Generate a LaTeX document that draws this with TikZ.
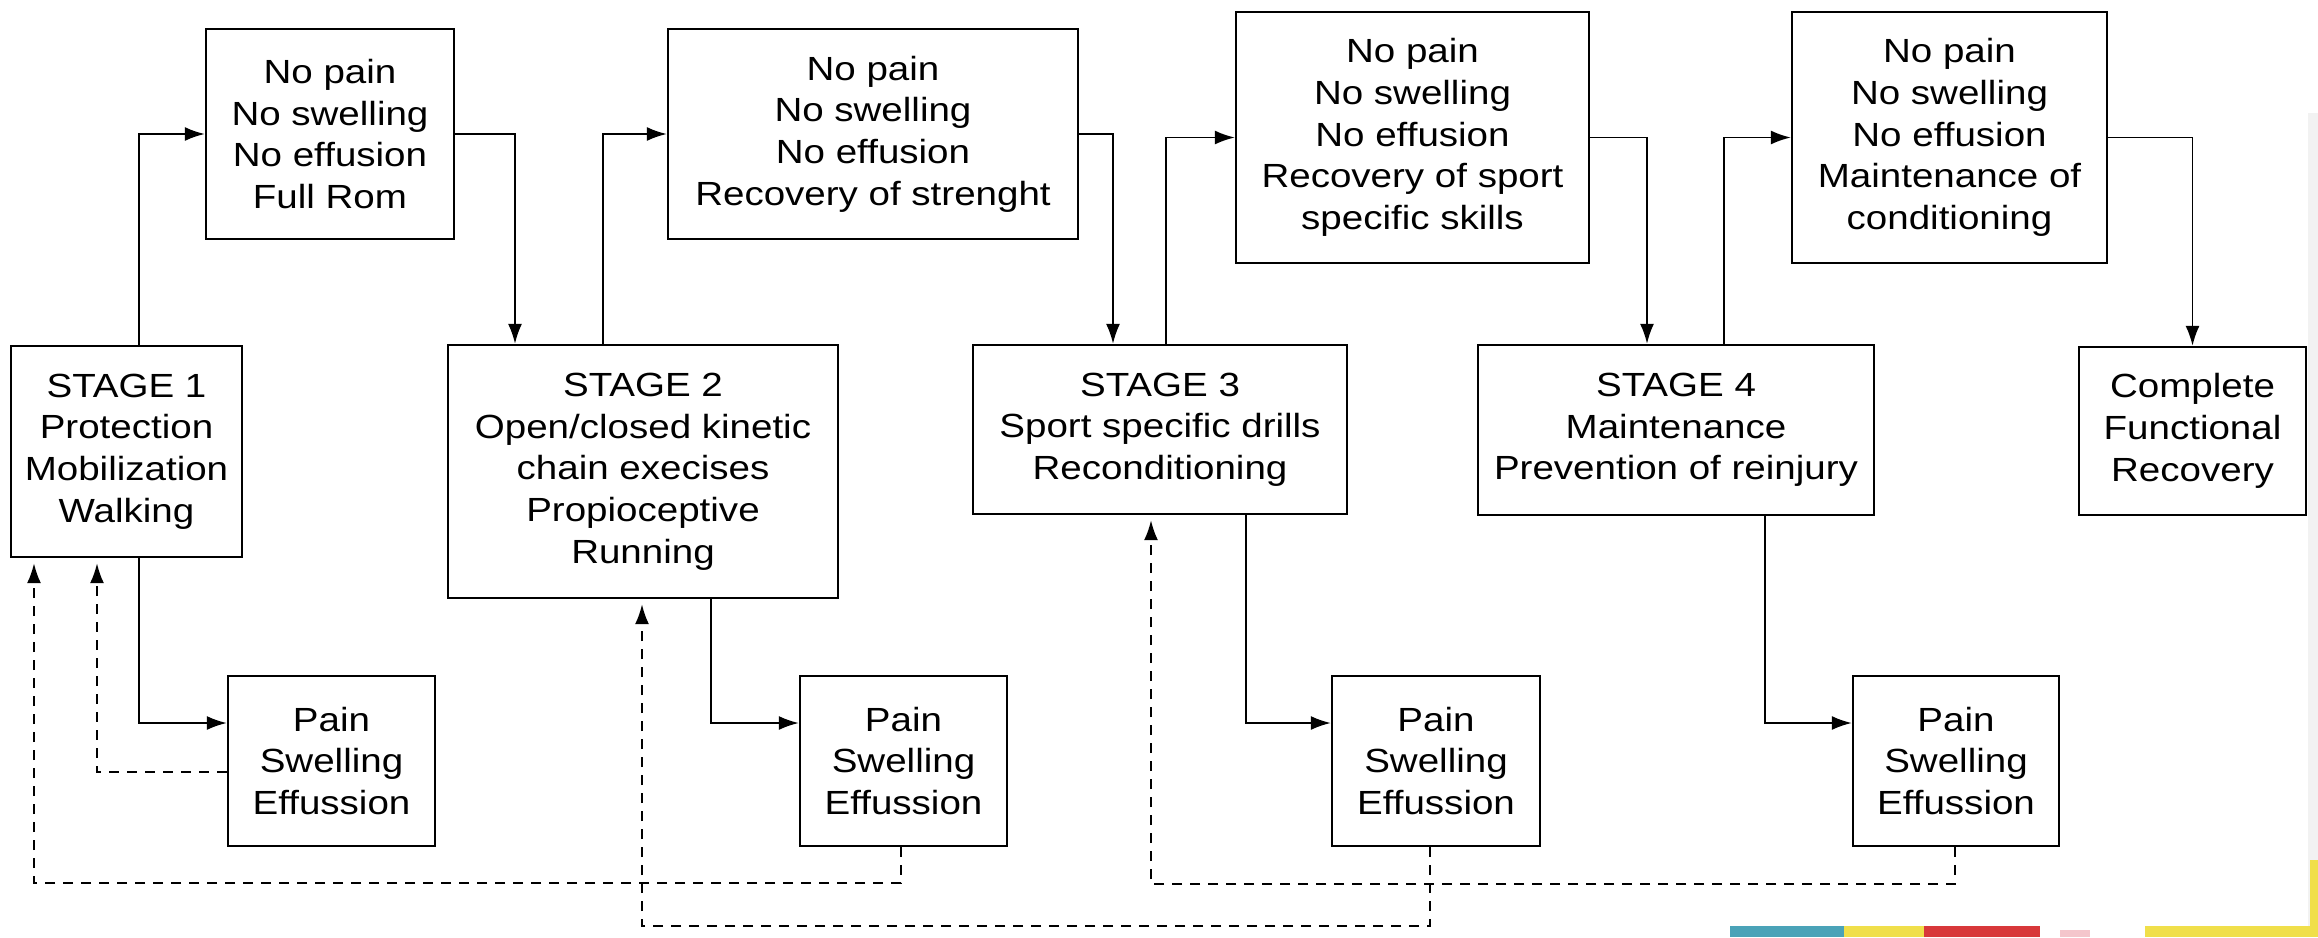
\documentclass[tikz,border=0pt]{standalone}
\usepackage{fontspec}
\setmainfont{Liberation Sans}[FakeStretch=1.15]
\usetikzlibrary{arrows.meta,calc}
\definecolor{logoteal}{HTML}{4AA3B8}
\definecolor{logoyellow}{HTML}{F0DF4A}
\definecolor{logored}{HTML}{D8383A}
\definecolor{logopink}{HTML}{F4C6CC}
\definecolor{edgegray}{HTML}{F2F2F2}
\begin{document}
\begin{tikzpicture}[x=0.5pt,y=-0.5pt,
  box/.style={draw=black,line width=1.2pt,inner sep=0pt,align=center,
    font=\fontsize{16.75pt}{20.85pt}\selectfont},
  arr/.style={line width=0.9pt,-{Latex[length=10pt,width=7pt]}},
  darr/.style={line width=1pt,dash pattern=on 5pt off 4pt,
    -{Latex[length=10pt,width=7pt]},shorten >=2.5pt}]
\useasboundingbox (0,0) rectangle (2318,937);
\fill[white] (0,0) rectangle (2318,937);
% light page edge and logo fragments
\fill[edgegray] (2308,113) rectangle (2318,937);
\fill[logoteal] (1730,926) rectangle (1844,937);
\fill[logoyellow] (1844,926) rectangle (1924,937);
\fill[logored] (1924,926) rectangle (2040,937);
\fill[logopink] (2060,930) rectangle (2090,937);
\fill[logoyellow] (2145,926) rectangle (2318,937);
\fill[logoyellow] (2310,860) rectangle (2318,937);

% condition boxes (top row)
\node[box,minimum width=124pt,minimum height=105pt] (np1) at (330,134)
  {No pain\\No swelling\\No effusion\\Full Rom};
\node[box,minimum width=205pt,minimum height=105pt] (np2) at (873,134)
  {No pain\\No swelling\\No effusion\\Recovery of strenght};
\node[box,minimum width=176.5pt,minimum height=125.5pt] (np3) at (1412.5,137.5)
  {No pain\\No swelling\\No effusion\\Recovery of sport\\specific skills};
\node[box,minimum width=157.5pt,minimum height=125.5pt] (np4) at (1949.5,137.5)
  {No pain\\No swelling\\No effusion\\Maintenance of\\conditioning};

% stage boxes (middle row)
\node[box,minimum width=115.5pt,minimum height=105.5pt] (s1) at (126.5,451.5)
  {STAGE 1\\Protection\\Mobilization\\Walking};
\node[box,minimum width=195pt,minimum height=126.5pt] (s2) at (643,471.5)
  {STAGE 2\\Open/closed kinetic\\chain execises\\Propioceptive\\Running};
\node[box,minimum width=187pt,minimum height=84.5pt] (s3) at (1160,429.5)
  {STAGE 3\\Sport specific drills\\Reconditioning};
\node[box,minimum width=198pt,minimum height=85pt] (s4) at (1676,430)
  {STAGE 4\\Maintenance\\Prevention of reinjury};
\node[box,minimum width=113.5pt,minimum height=84pt] (cfr) at (2192.5,431)
  {Complete\\Functional\\Recovery};

% pain boxes (bottom row)
\node[box,minimum width=103.5pt,minimum height=85pt] (p1) at (331.5,761)
  {Pain\\Swelling\\Effussion};
\node[box,minimum width=103.5pt,minimum height=85pt] (p2) at (903.5,761)
  {Pain\\Swelling\\Effussion};
\node[box,minimum width=104pt,minimum height=85pt] (p3) at (1436,761)
  {Pain\\Swelling\\Effussion};
\node[box,minimum width=103pt,minimum height=85pt] (p4) at (1956,761)
  {Pain\\Swelling\\Effussion};

% forward path
\draw[arr] ($(s1.north)+(12.5,0)$) |- (np1.west);
\draw[arr] (np1.east) -| ($(s2.north)+(-128,0)$);
\draw[arr] ($(s2.north)+(-40,0)$) |- (np2.west);
\draw[arr] (np2.east) -| ($(s3.north)+(-47,0)$);
\draw[arr] ($(s3.north)+(6,0)$) |- (np3.west);
\draw[arr] (np3.east) -| ($(s4.north)+(-29,0)$);
\draw[arr] ($(s4.north)+(48,0)$) |- (np4.west);
\draw[arr] (np4.east) -| (cfr.north);

% stage to pain
\draw[arr] ($(s1.south)+(12.5,0)$) |- ($(p1.west)+(0,-38)$);
\draw[arr] ($(s2.south)+(68,0)$) |- ($(p2.west)+(0,-38)$);
\draw[arr] ($(s3.south)+(86,0)$) |- ($(p3.west)+(0,-38)$);
\draw[arr] ($(s4.south)+(89,0)$) |- ($(p4.west)+(0,-38)$);

% dashed returns
\draw[darr] ($(p1.west)+(0,11)$) -| ($(s1.south)+(-29.5,0)$);
\draw[darr] ($(p2.south)+(-2.5,0)$) -- ++(0,36) -| ($(s1.south)+(-92.5,0)$);
\draw[darr] ($(p3.south)+(-6,0)$) -- ++(0,79) -| ($(s2.south)+(-1,0)$);
\draw[darr] ($(p4.south)+(-1,0)$) -- ++(0,37) -| ($(s3.south)+(-9,0)$);
\end{tikzpicture}
\end{document}
